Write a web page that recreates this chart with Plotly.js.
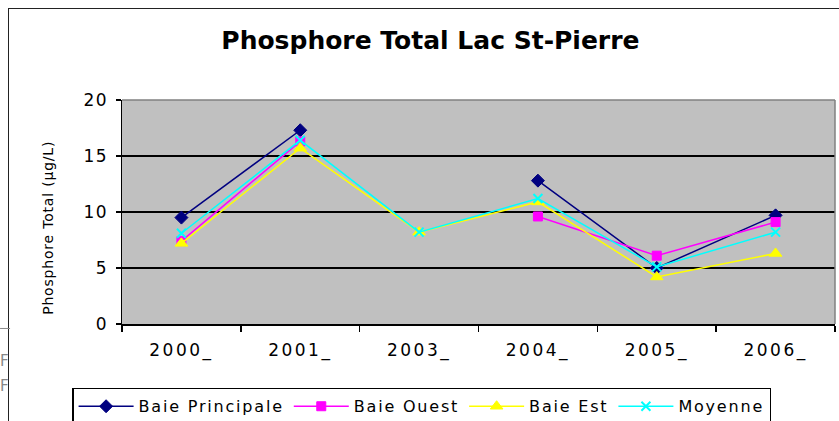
<!DOCTYPE html>
<html><head><meta charset="utf-8">
<script src="https://cdn.plot.ly/plotly-3.0.1.min.js"></script>
<style>
html,body{margin:0;padding:0;background:#fff;overflow:hidden}
#frame{position:absolute;left:8px;top:8px;width:840px;height:420px;border:1.5px solid #222;}
#chart{position:absolute;left:0;top:0;width:839px;height:421px}
text.legendtext{letter-spacing:1.8px}
.xtick text{letter-spacing:2.5px}
.ytick text{letter-spacing:1.5px}
.annotation-text.ytitle-ann{letter-spacing:0.8px}
</style></head>
<body>
<div id="frame"></div>
<div id="chart"></div>
<script>
const categories = ["2000_", "2001_", "2003_", "2004_", "2005_", "2006_"];
const baiePrincipale = [9.5, 17.3, null, 12.8, 5.0, 9.7];
const baieOuest = [7.4, 16.3, null, 9.6, 6.1, 9.1];
const baieEst = [7.2, 15.7, 8.2, 10.9, 4.2, 6.3];
const moyenne = [8.1, 16.4, 8.2, 11.2, 5.1, 8.2];
const seriesNames = ["Baie Principale", "Baie Ouest", "Baie Est", "Moyenne"];
const yTicks = [0, 5, 10, 15, 20];
const yTitle = "Phosphore Total (µg/L)";

const mk = (name, y, color, symbol, size, lw) => ({
  type: "scatter", mode: "lines+markers", name: name, x: categories, y: y,
  connectgaps: false,
  line: {color: color, width: 1.5},
  marker: {color: color, symbol: symbol, size: size, line: {color: color, width: lw}}
});

const data = [
  mk(seriesNames[0], baiePrincipale, "#000080", "diamond", 10, 1),
  mk(seriesNames[1], baieOuest, "#ff00ff", "square", 9, 1),
  mk(seriesNames[2], baieEst, "#ffff00", "triangle-up", 11, 1),
  mk(seriesNames[3], moyenne, "#00ffff", "x-thin", 9, 2)
];

const F = "DejaVu Sans, Liberation Sans, sans-serif";
const layout = {
  width: 839, height: 421,
  margin: {l: 122, r: 4, t: 100, b: 97, autoexpand: false},
  paper_bgcolor: "rgba(0,0,0,0)",
  plot_bgcolor: "#c0c0c0",
  font: {family: F, color: "#000", size: 16},
  title: {text: "<b>Phosphore Total Lac St-Pierre</b>", font: {family: F, size: 25, color: "#000"}, x: 0.513, xanchor: "center", y: 0.905, yanchor: "middle"},
  showlegend: true,
  legend: {orientation: "h", x: -0.07, xanchor: "left", y: -0.285, yanchor: "top",
    bordercolor: "#000", borderwidth: 1.5, bgcolor: "#fff", font: {family: F, size: 16},
    traceorder: "normal", itemwidth: 55},
  xaxis: {type: "category", range: [-0.5, 5.5], tickson: "boundaries", ticks: "outside", ticklen: 6, tickwidth: 1.5, tickcolor: "#000",
    showline: true, linecolor: "#000", linewidth: 1.5, showgrid: false, zeroline: false,
    tickfont: {family: F, size: 17}, ticklabelstandoff: 10, fixedrange: true},
  yaxis: {range: [0, 20], tickvals: yTicks, ticks: "outside", ticklen: 5, tickwidth: 1.5, tickcolor: "#000",
    showline: true, linecolor: "#000", linewidth: 1.5, showgrid: true, gridcolor: "#000", gridwidth: 2.5,
    zeroline: false, tickfont: {family: F, size: 17}, ticklabelstandoff: 4},
  shapes: [
    {type: "line", xref: "paper", yref: "paper", x0: 0, x1: 1, y0: 1, y1: 1, line: {color: "#808080", width: 1.5}},
    {type: "line", xref: "paper", yref: "paper", x0: 1, x1: 1, y0: 0, y1: 1, line: {color: "#808080", width: 1.5}},
    {type: "line", xref: "paper", yref: "paper", x0: -0.171, x1: -0.157, y0: -0.02, y1: -0.02, line: {color: "#888", width: 1}}
  ],
  annotations: [
    {text: yTitle, textangle: -90, xref: "paper", yref: "paper", x: (48 - 122) / 713, y: (324 - 228) / 224,
      xanchor: "center", yanchor: "middle", showarrow: false, font: {family: F, size: 14, color: "#000"}},
    {text: "F", xref: "paper", yref: "paper", x: -0.165, y: -0.215, showarrow: false, font: {size: 15, color: "#888"}, xanchor: "center"},
    {text: "F", xref: "paper", yref: "paper", x: -0.165, y: -0.325, showarrow: false, font: {size: 15, color: "#888"}, xanchor: "center"}
  ]
};

Plotly.newPlot("chart", data, layout, {displayModeBar: false, staticPlot: true}).then(() => {
  const t = document.querySelectorAll("#chart .annotation-text")[0];
  if (t) t.style.letterSpacing = "0.8px";
});
</script>
</body></html>
